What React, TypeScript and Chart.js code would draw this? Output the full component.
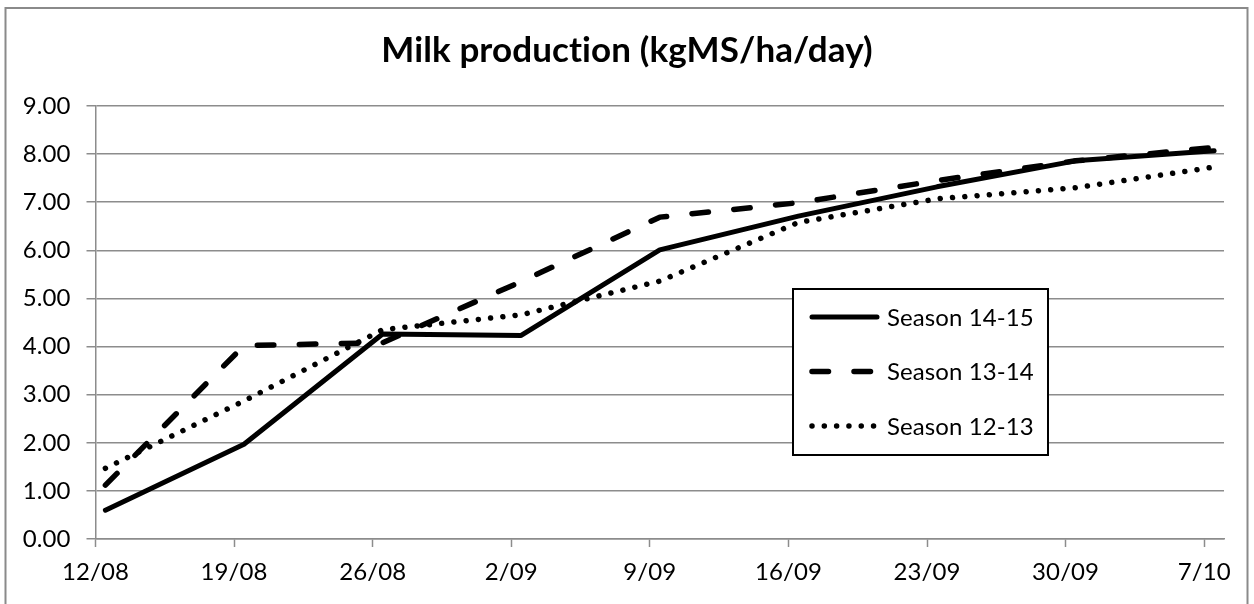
import React, { useEffect, useRef } from "react";
import { Chart, registerables } from "chart.js";

Chart.register(...registerables);

const chartTitle = "Milk production (kgMS/ha/day)";
const dateLabels = ["12/08", "19/08", "26/08", "2/09", "9/09", "16/09", "23/09", "30/09", "7/10"];
const seriesNames = ["Season 14-15", "Season 13-14", "Season 12-13"];
const season1415 = [0.6, 1.97, 4.26, 4.23, 6.01, 6.71, 7.32, 7.86, 8.07];
const season1314 = [1.12, 4.02, 4.08, 5.35, 6.69, 6.99, 7.45, 7.86, 8.14];
const season1213 = [1.47, 2.87, 4.35, 4.66, 5.36, 6.58, 7.07, 7.3, 7.73];
const yTicks = [0, 1, 2, 3, 4, 5, 6, 7, 8, 9];

const DAYS_PER_WEEK = 7;
const FONT = "Lato, 'Open Sans', sans-serif";
const GRID = "#8c8c8c";

const toPoints = (vals: number[]) =>
  vals.map((v, i) => ({ x: i * DAYS_PER_WEEK + 0.5, y: v }));

const borderPlugin = {
  id: "outerBorder",
  beforeDraw(chart: any) {
    const ctx = chart.ctx;
    ctx.save();
    ctx.fillStyle = "#ffffff";
    ctx.fillRect(0, 0, chart.width, chart.height);
    ctx.strokeStyle = "#8a8a8a";
    ctx.lineWidth = 2;
    ctx.strokeRect(5.5, 8, chart.width - 12, chart.height + 20);
    ctx.restore();
    // avoid font ligatures (e.g. "ti") in canvas text
    try {
      (ctx as any).letterSpacing = "0.1px";
    } catch (e) {}
  },
};

const legendPlugin = {
  id: "boxLegend",
  afterDatasetsDraw(chart: any) {
    const ctx = chart.ctx;
    const bx = 793, by = 289, bw = 255, bh = 166;
    ctx.save();
    ctx.fillStyle = "#ffffff";
    ctx.fillRect(bx, by, bw, bh);
    ctx.strokeStyle = "#000000";
    ctx.lineWidth = 2;
    ctx.strokeRect(bx, by, bw, bh);
    chart.data.datasets.forEach((ds: any, i: number) => {
      const y = 317 + i * 54.5;
      ctx.beginPath();
      ctx.strokeStyle = ds.borderColor;
      ctx.lineWidth = ds.borderWidth;
      ctx.lineCap = "round";
      ctx.setLineDash(ds.borderDash || []);
      ctx.moveTo(812, y);
      ctx.lineTo(877, y);
      ctx.stroke();
      ctx.setLineDash([]);
      ctx.fillStyle = "#000000";
      ctx.font = `24px ${FONT}`;
      ctx.textBaseline = "middle";
      ctx.textAlign = "left";
      ctx.fillText(ds.label, 887, y + 1);
    });
    ctx.restore();
  },
};

export default function App() {
  const canvasRef = useRef<HTMLCanvasElement | null>(null);

  useEffect(() => {
    document.body.style.margin = "0";
    const canvas = canvasRef.current;
    if (!canvas) return;
    const chart = new Chart(canvas, {
      type: "line",
      data: {
        datasets: [
          {
            label: seriesNames[0],
            data: toPoints(season1415),
            borderColor: "#000000",
            borderWidth: 5,
            borderCapStyle: "round",
            borderJoinStyle: "round",
            pointRadius: 0,
            tension: 0,
          },
          {
            label: seriesNames[1],
            data: toPoints(season1314),
            borderColor: "#000000",
            borderWidth: 5.5,
            borderDash: [16.5, 25.5],
            borderCapStyle: "round",
            borderJoinStyle: "round",
            pointRadius: 0,
            tension: 0,
          },
          {
            label: seriesNames[2],
            data: toPoints(season1213),
            borderColor: "#000000",
            borderWidth: 5.5,
            borderDash: [0.01, 12.3],
            borderCapStyle: "round",
            borderJoinStyle: "round",
            pointRadius: 0,
            tension: 0,
          },
        ] as any,
      },
      options: {
        animation: false,
        responsive: false,
        devicePixelRatio: 1,
        layout: { padding: 0 },
        plugins: {
          legend: { display: false },
          tooltip: { enabled: false },
          title: {
            display: true,
            text: chartTitle,
            color: "#000000",
            font: { family: FONT, size: 35, weight: "bold" },
            padding: { top: 30, bottom: 34 },
          },
        },
        scales: {
          x: {
            type: "linear",
            min: 0,
            max: (dateLabels.length - 1) * DAYS_PER_WEEK + 1,
            afterBuildTicks: (scale: any) => {
              scale.ticks = dateLabels.map((_, i) => ({ value: i * DAYS_PER_WEEK }));
            },
            afterFit: (scale: any) => {
              scale.height = 65;
            },
            ticks: {
              color: "#000000",
              font: { family: FONT, size: 24 },
              padding: 11,
              maxRotation: 0,
              autoSkip: false,
              callback: (v: any) => dateLabels[Math.round(Number(v) / DAYS_PER_WEEK)] ?? "",
            },
            grid: {
              drawOnChartArea: false,
              drawTicks: true,
              tickLength: 8,
              tickColor: GRID,
              tickWidth: 1.5,
            },
            border: { display: true, color: GRID, width: 1.5 },
          },
          y: {
            type: "linear",
            min: yTicks[0],
            max: yTicks[yTicks.length - 1],
            afterBuildTicks: (scale: any) => {
              scale.ticks = yTicks.map((v) => ({ value: v }));
            },
            afterFit: (scale: any) => {
              scale.width = 95.5;
            },
            ticks: {
              color: "#000000",
              font: { family: FONT, size: 24 },
              padding: 16,
              callback: (v: any) => Number(v).toFixed(2),
            },
            grid: {
              color: GRID,
              lineWidth: 1.5,
              drawTicks: true,
              tickLength: 9,
              tickColor: GRID,
            },
            border: { display: true, color: GRID, width: 1.5 },
          },
          yRightGap: {
            type: "linear",
            position: "right",
            min: 0,
            max: 1,
            afterFit: (scale: any) => {
              scale.width = 30;
            },
            ticks: { display: false },
            grid: { display: false, drawTicks: false },
            border: { display: false },
          },
        },
      } as any,
      plugins: [borderPlugin, legendPlugin],
    });
    return () => chart.destroy();
  }, []);

  return (
    <div style={{ position: "fixed", left: 0, top: 0, width: 1254, height: 604 }}>
      <canvas ref={canvasRef} width={1254} height={604} style={{ display: "block" }} />
    </div>
  );
}
